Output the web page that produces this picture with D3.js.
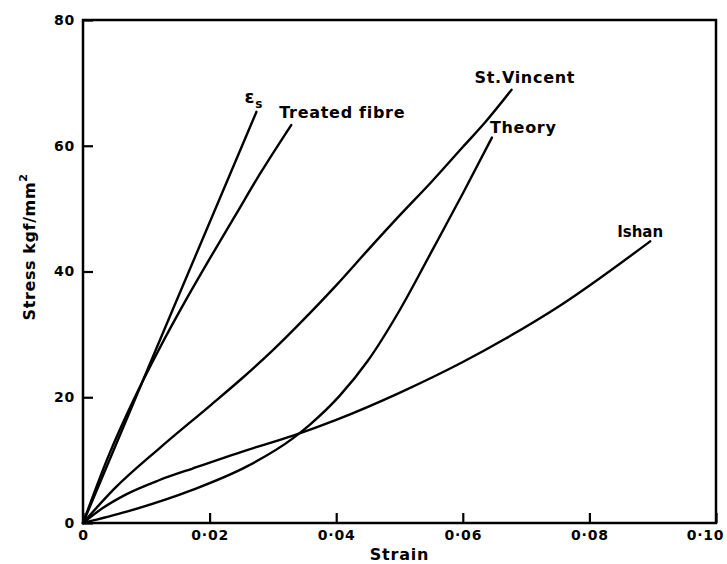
<!DOCTYPE html>
<html>
<head>
<meta charset="utf-8">
<script src="https://cdn.jsdelivr.net/npm/d3@7"></script>
<style>
  html, body { margin: 0; padding: 0; background: #fff; }
  svg { display: block; font-family: "DejaVu Sans", sans-serif; font-weight: bold; }
</style>
</head>
<body>
<svg id="chart" width="727" height="564"></svg>
<script>
// Stress–strain curves: strain on x, stress (kgf/mm²) on y
const xTicks = [0, 0.02, 0.04, 0.06, 0.08, 0.10];
const xTickLabels = ["0", "0·02", "0·04", "0·06", "0·08", "0·10"];
const yTicks = [0, 20, 40, 60, 80];
const yTickLabels = ["0", "20", "40", "60", "80"];

const epsilonS = [[0, 0], [0.0137, 32.8], [0.0274, 65.4]];
const treatedFibre = [[0, 0], [0.004, 10.6], [0.008, 19.6], [0.012, 27.6], [0.016, 35.0],
                      [0.020, 42.0], [0.024, 48.8], [0.028, 55.6], [0.0329, 63.3]];
const stVincent = [[0, 0], [0.005, 5.5], [0.0122, 12.0], [0.020, 18.6], [0.025, 22.9],
                   [0.030, 27.5], [0.0343, 31.8], [0.040, 37.8], [0.045, 43.4], [0.0501, 49.0],
                   [0.055, 54.2], [0.060, 59.8], [0.0635, 63.7], [0.0677, 68.9]];
const theory = [[0, 0], [0.0069, 1.8], [0.0174, 5.3], [0.0259, 9.0], [0.0332, 13.5],
                [0.0359, 15.7], [0.0406, 20.3], [0.045, 25.8], [0.050, 33.8], [0.0553, 43.6],
                [0.060, 52.4], [0.0646, 61.3]];
const ishan = [[0, 0], [0.003, 2.3], [0.0069, 4.6], [0.012, 6.8], [0.0174, 8.7], [0.0259, 11.6],
               [0.0332, 13.9], [0.040, 16.4], [0.050, 20.7], [0.060, 25.6], [0.0667, 29.3],
               [0.0754, 34.6], [0.0896, 44.8]];

const seriesNames = ["εs", "Treated fibre", "St.Vincent", "Theory", "Ishan"];
const seriesValues = [epsilonS, treatedFibre, stVincent, theory, ishan];

const svg = d3.select("#chart");
const x = d3.scaleLinear().domain([0, 0.10]).range([83, 716]);
const y = d3.scaleLinear().domain([0, 80]).range([523, 20]);

// Frame
svg.append("rect")
  .attr("x", x(0)).attr("y", y(80))
  .attr("width", x(0.10) - x(0)).attr("height", y(0) - y(80))
  .attr("fill", "none").attr("stroke", "#000").attr("stroke-width", 2.5);

// Axes with inward ticks
const xAxis = d3.axisBottom(x).tickValues(xTicks)
  .tickFormat((d, i) => xTickLabels[i]).tickSizeInner(-10).tickSizeOuter(0).tickPadding(7);
const gx = svg.append("g").attr("transform", `translate(0,${y(0)})`).call(xAxis);

const yAxis = d3.axisLeft(y).tickValues(yTicks)
  .tickFormat((d, i) => yTickLabels[i]).tickSizeInner(-10).tickSizeOuter(0).tickPadding(8);
const gy = svg.append("g").attr("transform", `translate(${x(0)},0)`).call(yAxis);

[gx, gy].forEach(g => {
  g.select(".domain").remove();
  g.selectAll(".tick line").attr("stroke", "#000").attr("stroke-width", 2.2);
  g.selectAll(".tick text").attr("fill", "#000")
    .style("font-family", "'DejaVu Sans', sans-serif").style("font-weight", "bold")
    .style("font-size", "14px").style("letter-spacing", "0.8px");
});
// keep the last strain label inside the page edge
gx.selectAll(".tick text").filter((d, i) => i === xTicks.length - 1).attr("dx", -11);

// Axis titles
svg.append("text")
  .attr("x", (x(0) + x(0.10)) / 2).attr("y", 560)
  .attr("text-anchor", "middle").style("font-size", "16px").style("letter-spacing", "0.8px")
  .text("Strain");

const yTitle = svg.append("text")
  .attr("transform", `translate(35,247) rotate(-90)`)
  .attr("text-anchor", "middle").style("font-size", "16px").style("letter-spacing", "0.6px");
yTitle.append("tspan").text("Stress  kgf/mm");
yTitle.append("tspan").attr("dy", -8).style("font-size", "11px").text("2");

// Curves
const line = d3.line().x(d => x(d[0])).y(d => y(d[1])).curve(d3.curveMonotoneX);
svg.append("g").selectAll("path")
  .data(seriesValues)
  .join("path")
  .attr("d", line)
  .attr("fill", "none").attr("stroke", "#000").attr("stroke-width", 2.4)
  .attr("stroke-linejoin", "round").attr("stroke-linecap", "round");

// Curve labels, set just beyond each curve's end
const labelOffsets = [[-12, -9], [-12, -7], [-37, -7], [-2, -5], [-33, -4]];
const labelSizes = [18, 16, 16, 16, 15];
seriesValues.forEach((vals, i) => {
  const end = vals[vals.length - 1];
  const t = svg.append("text")
    .attr("x", x(end[0]) + labelOffsets[i][0])
    .attr("y", y(end[1]) + labelOffsets[i][1])
    .style("font-size", labelSizes[i] + "px")
    .style("letter-spacing", i === 4 ? "0px" : "0.7px");
  if (i === 0) {
    t.append("tspan").text("ε");
    t.append("tspan").attr("dy", 5).style("font-size", "12px").text("s");
  } else {
    t.text(seriesNames[i]);
  }
});
</script>
</body>
</html>
